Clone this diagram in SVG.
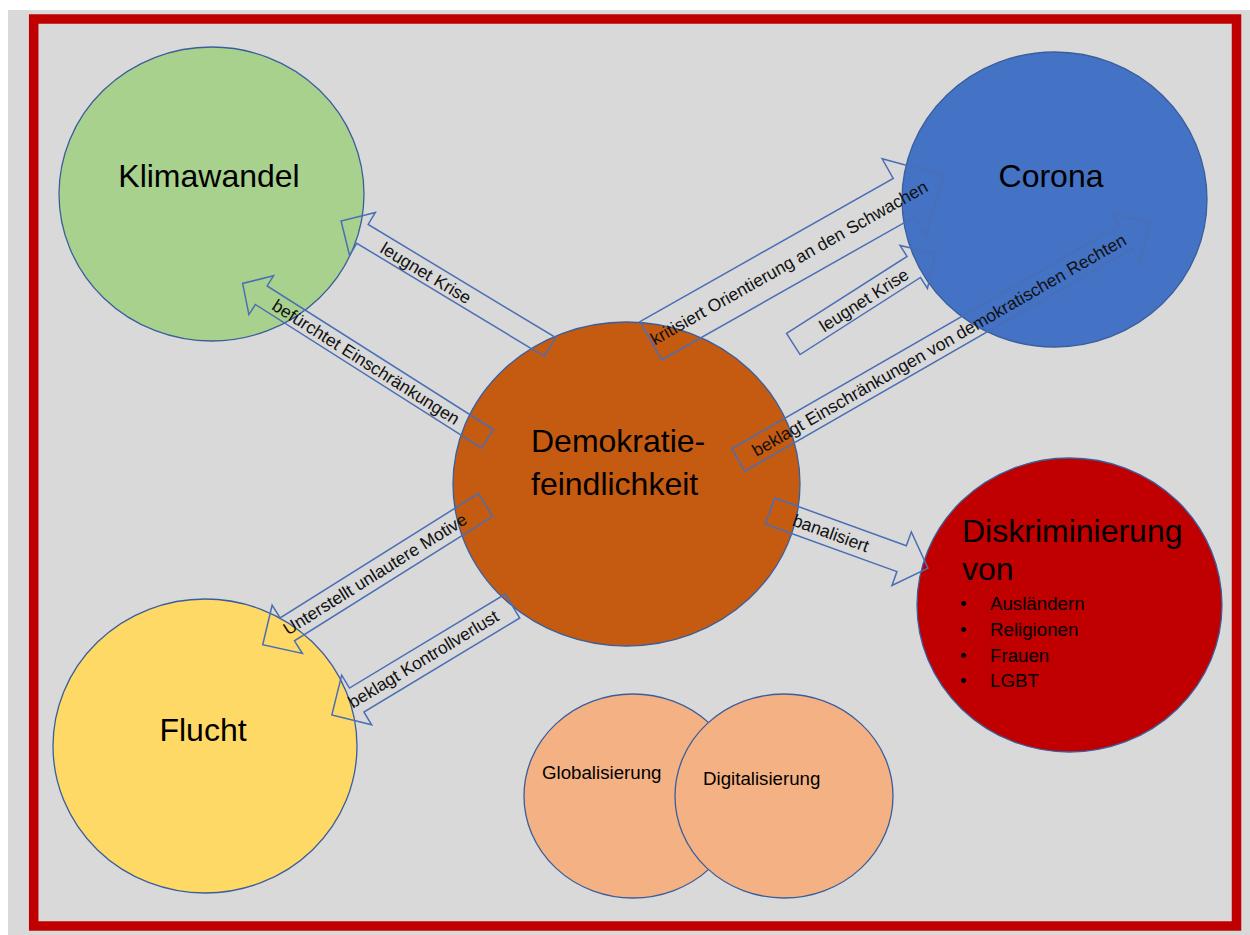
<svg xmlns="http://www.w3.org/2000/svg" width="1250" height="935" viewBox="0 0 1250 935">
<style>
.c{stroke:#3A5E9C;stroke-width:1.3}
.big{font-family:"Liberation Sans",Arial,sans-serif;font-size:32px;fill:#000}
.mid{font-family:"Liberation Sans",Arial,sans-serif;font-size:18.7px;fill:#000}
.lbl{font-family:"Liberation Sans",Arial,sans-serif;font-size:17.5px;fill:#111;text-anchor:middle}
.arr{fill:none;stroke:#4A6FB5;stroke-width:1.5;stroke-linejoin:miter}
</style>
<rect x="0" y="0" width="1250" height="935" fill="#ffffff"/>
<rect x="8" y="10" width="1242" height="925" fill="#D9D9D9"/>
<rect x="33.7" y="19" width="1202.8" height="907" fill="none" stroke="#C00000" stroke-width="9.5"/>

<g id="klimawandel">
<ellipse class="c" cx="211.5" cy="194" rx="152.5" ry="147" fill="#A9D18E"/>
<text class="big" x="209" y="186.7" text-anchor="middle">Klimawandel</text>
</g>
<g id="corona">
<ellipse class="c" cx="1054.5" cy="199.5" rx="152.5" ry="147.5" fill="#4472C4"/>
<text class="big" x="1051" y="186.7" text-anchor="middle">Corona</text>
</g>
<g id="demokratiefeindlichkeit">
<ellipse class="c" cx="626.5" cy="484" rx="173.5" ry="162" fill="#C55A11"/>
<text class="big" x="531" y="451.7">Demokratie-</text>
<text class="big" x="531" y="495">feindlichkeit</text>
</g>
<g id="diskriminierung">
<ellipse class="c" cx="1069.5" cy="605" rx="152.5" ry="147" fill="#C00000"/>
<text class="big" x="962" y="541.7">Diskriminierung</text>
<text class="big" x="962" y="580">von</text>
<text class="mid" x="960" y="610">•</text><text class="mid" x="990" y="610">Ausländern</text>
<text class="mid" x="960" y="636">•</text><text class="mid" x="990" y="636">Religionen</text>
<text class="mid" x="960" y="661.5">•</text><text class="mid" x="990" y="661.5">Frauen</text>
<text class="mid" x="960" y="686.5">•</text><text class="mid" x="990" y="686.5">LGBT</text>
</g>
<g id="flucht">
<ellipse class="c" cx="205" cy="746" rx="152" ry="147" fill="#FFD966"/>
<text class="big" x="203" y="741" text-anchor="middle">Flucht</text>
</g>
<g id="globalisierung">
<ellipse class="c" cx="633" cy="796" rx="109" ry="102" fill="#F4B183"/>
<text class="mid" x="542" y="779.3">Globalisierung</text>
</g>
<g id="digitalisierung">
<ellipse class="c" cx="784" cy="796" rx="109" ry="102" fill="#F4B183"/>
<text class="mid" x="703" y="785">Digitalisierung</text>
</g>

<g id="connectors">
<polygon class="arr" transform="translate(550,347) rotate(211.1)" points="0,-11 219,-11 219,-25 244,0 219,25 219,11 0,11"/>
<text class="lbl" transform="translate(426,273) rotate(31.1)" dy="0.35em">leugnet Krise</text>

<polygon class="arr" transform="translate(487.5,438.8) rotate(212.4)" points="0,-11 268,-11 268,-23 290,0 268,23 268,11 0,11"/>
<text class="lbl" transform="translate(366,362) rotate(32.4)" dy="0.35em">befürchtet Einschränkungen</text>

<polygon class="arr" transform="translate(650.8,340.8) rotate(-29.5)" points="0,-22 291,-22 291,-44.5 336,0 291,44.5 291,22 0,22"/>
<text class="lbl" transform="translate(789,262.6) rotate(-29.5)" dy="0.35em">kritisiert Orientierung an den Schwachen</text>

<polygon class="arr" transform="translate(793.3,344) rotate(-32.6)" points="0,-12.5 143,-12.5 143,-25.5 168,0 143,25.5 143,12.5 0,12.5"/>
<text class="lbl" transform="translate(864,300) rotate(-32.6)" dy="0.35em">leugnet Krise</text>

<polygon class="arr" transform="translate(738.3,460) rotate(-29.9)" points="0,-13 447,-13 447,-28 475,0 447,28 447,13 0,13"/>
<text class="lbl" transform="translate(939,345) rotate(-29.9)" dy="0.35em">beklagt Einschränkungen von demokratischen Rechten</text>

<polygon class="arr" transform="translate(485.5,505) rotate(147.9)" points="0,-13.5 234,-13.5 234,-28.5 263,0 234,28.5 234,13.5 0,13.5"/>
<text class="lbl" transform="translate(375,574) rotate(-32.1)" dy="0.35em">Unterstellt unlautere Motive</text>

<polygon class="arr" transform="translate(512.5,606) rotate(148.9)" points="0,-14 182,-14 182,-29 211,0 182,29 182,14 0,14"/>
<text class="lbl" transform="translate(423.3,659) rotate(-31.1)" dy="0.35em">beklagt Kontrollverlust</text>

<polygon class="arr" transform="translate(770,511) rotate(19.9)" points="0,-13.8 140,-13.8 140,-28.5 168,0 140,28.5 140,13.8 0,13.8"/>
<text class="lbl" transform="translate(831,533) rotate(19.9)" dy="0.35em">banalisiert</text>
</g>
</svg>
